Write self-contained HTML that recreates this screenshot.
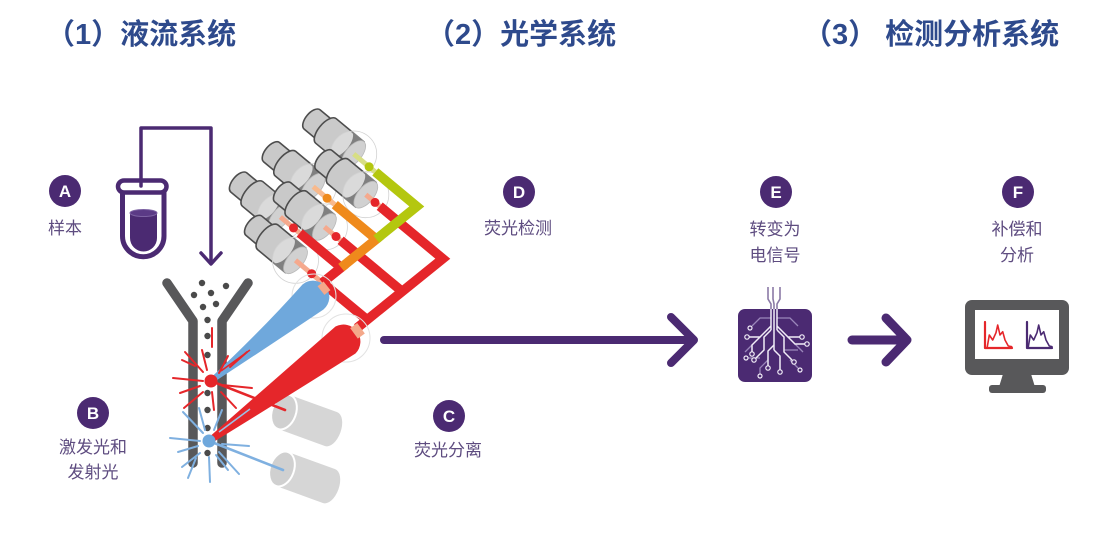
<!DOCTYPE html>
<html>
<head>
<meta charset="utf-8">
<style>
html,body{margin:0;padding:0;background:#fff;}
svg{display:block;}
</style>
</head>
<body>
<svg width="1117" height="544" viewBox="0 0 1117 544" xmlns="http://www.w3.org/2000/svg" xmlns:xlink="http://www.w3.org/1999/xlink">
<defs>
  <g id="cyl">
    <path d="M34,-12.5 L54,-12.5 A6.5,12.5 0 0 1 54,12.5 L34,12.5 Z" fill="#c9c9c9" stroke="#4d4d4d" stroke-width="1.6"/>
    <path d="M0,-16 L36,-16 A7.5,16 0 0 1 36,16 L0,16 Z" fill="#cacaca" stroke="#4d4d4d" stroke-width="1.6"/>
    <path d="M1,-16 L16,-16 A7.5,16 0 0 0 16,16 L1,16 Z" fill="#4a4a4a"/>
    <ellipse cx="0" cy="0" rx="8" ry="16" fill="#bdbdbd" stroke="#9a9a9a" stroke-width="0.8"/>
  </g>
  <g id="gcyl">
    <path d="M0,-18 L50,-18 A10,18 0 0 1 50,18 L0,18 Z" fill="#d6d6d6"/>
    <ellipse cx="0" cy="0" rx="12" ry="18" fill="#d0d0d0" stroke="#ffffff" stroke-width="2"/>
  </g>
</defs>

<!-- Titles -->
<g font-family="'Liberation Sans','Noto Sans CJK SC',sans-serif" font-weight="700" font-size="29" fill="#2e4a8c">
  <text x="46" y="44">（1）液流系统</text>
  <text x="426" y="44">（2）光学系统</text>
  <text x="803" y="44">（3） 检测分析系统</text>
</g>

<!-- Letter circles -->
<g fill="#4b2a72">
  <circle cx="65" cy="191" r="16"/>
  <circle cx="93" cy="413" r="16"/>
  <circle cx="449" cy="416" r="16"/>
  <circle cx="519" cy="192" r="16"/>
  <circle cx="776" cy="192" r="16"/>
  <circle cx="1018" cy="192" r="16"/>
</g>
<g font-family="'Liberation Sans',sans-serif" font-weight="700" font-size="17" fill="#ffffff" text-anchor="middle">
  <text x="65" y="197">A</text>
  <text x="93" y="419">B</text>
  <text x="449" y="422">C</text>
  <text x="519" y="198">D</text>
  <text x="776" y="198">E</text>
  <text x="1018" y="198">F</text>
</g>

<!-- Labels -->
<g font-family="'Liberation Sans','Noto Sans CJK SC',sans-serif" font-size="17" fill="#5e4c80" text-anchor="middle">
  <text x="65" y="234">样本</text>
  <text x="93" y="453">激发光和</text>
  <text x="93" y="478">发射光</text>
  <text x="448" y="456">荧光分离</text>
  <text x="518" y="234">荧光检测</text>
  <text x="775" y="235">转变为</text>
  <text x="775" y="261">电信号</text>
  <text x="1017" y="235">补偿和</text>
  <text x="1017" y="261">分析</text>
</g>

<!-- Sample tube -->
<path d="M122.5,192 V236 A20.75,20.75 0 0 0 164,236 V192" fill="#fff" stroke="#4b2a72" stroke-width="5"/>
<path d="M130,213 V238 A13.5,13.5 0 0 0 157,238 V213 Z" fill="#4b2a72"/>
<ellipse cx="143.5" cy="213" rx="13.5" ry="3.5" fill="#5b3a86" stroke="#7d62a3" stroke-width="1"/>
<rect x="118" y="180.5" width="48.5" height="12" rx="6" fill="#fff" stroke="#4b2a72" stroke-width="4.5"/>
<g stroke="#4b2a72" fill="none" stroke-linecap="round" stroke-linejoin="round" stroke-width="3.5">
  <path d="M141,186 V128 H211 V263"/>
  <path d="M201,253 L211,264 L221,253"/>
</g>

<!-- Y flow cell -->
<g stroke="#58585a" stroke-width="9.5" fill="none" stroke-linecap="round" stroke-linejoin="round">
  <path d="M167,283 L193,321 V463"/>
  <path d="M248,283 L222,321 V463"/>
</g>
<g fill="#4a4a4a">
  <circle cx="202" cy="283" r="3.2"/>
  <circle cx="226" cy="286" r="3.2"/>
  <circle cx="194" cy="295" r="3.2"/>
  <circle cx="211" cy="293" r="3.2"/>
  <circle cx="203" cy="307" r="3.2"/>
  <circle cx="216" cy="304" r="3.2"/>
  <circle cx="207.5" cy="320" r="3.2"/>
  <circle cx="207.5" cy="336" r="3.2"/>
  <circle cx="207.5" cy="355" r="3.2"/>
  <circle cx="207.5" cy="393" r="3.2"/>
  <circle cx="207.5" cy="410" r="3.2"/>
  <circle cx="207.5" cy="428" r="3.2"/>
  <circle cx="207.5" cy="453" r="3.2"/>
</g>

<!-- light gray cylinders -->
<use xlink:href="#gcyl" href="#gcyl" transform="translate(284,412) rotate(20)"/>
<use xlink:href="#gcyl" href="#gcyl" transform="translate(282,469) rotate(20)"/>

<!-- detector cylinders -->
<use xlink:href="#cyl" href="#cyl" transform="translate(353.7,154) rotate(-140.3)"/>
<circle cx="353.7" cy="154" r="23" fill="#fff" fill-opacity="0.3" stroke="#d2d2d2" stroke-width="0.8"/>
<use xlink:href="#cyl" href="#cyl" transform="translate(313.2,186.7) rotate(-140.3)"/>
<circle cx="313.2" cy="186.7" r="23" fill="#fff" fill-opacity="0.3" stroke="#d2d2d2" stroke-width="0.8"/>
<use xlink:href="#cyl" href="#cyl" transform="translate(365.8,194.7) rotate(-140.3)"/>
<circle cx="365.8" cy="194.7" r="23" fill="#fff" fill-opacity="0.3" stroke="#d2d2d2" stroke-width="0.8"/>
<use xlink:href="#cyl" href="#cyl" transform="translate(280.4,217) rotate(-140.3)"/>
<circle cx="280.4" cy="217" r="23" fill="#fff" fill-opacity="0.3" stroke="#d2d2d2" stroke-width="0.8"/>
<use xlink:href="#cyl" href="#cyl" transform="translate(324.4,226.9) rotate(-140.3)"/>
<circle cx="324.4" cy="226.9" r="23" fill="#fff" fill-opacity="0.3" stroke="#d2d2d2" stroke-width="0.8"/>
<use xlink:href="#cyl" href="#cyl" transform="translate(295.5,260.3) rotate(-140.3)"/>
<circle cx="295.5" cy="260.3" r="23" fill="#fff" fill-opacity="0.3" stroke="#d2d2d2" stroke-width="0.8"/>

<!-- thin link lines from detectors -->
<g stroke-width="5" fill="none">
  <line x1="353.7" y1="154" x2="375.3" y2="171.9" stroke="#d7de84"/>
  <line x1="313.2" y1="186.7" x2="334.8" y2="204.6" stroke="#f8b98c"/>
  <line x1="365.8" y1="194.7" x2="379.7" y2="206.2" stroke="#f5a98d"/>
  <line x1="280.4" y1="217" x2="299.7" y2="233" stroke="#f5a98d"/>
  <line x1="324.4" y1="226.9" x2="340.6" y2="240.3" stroke="#f5a98d"/>
  <line x1="295.5" y1="260.3" x2="322.4" y2="282.7" stroke="#f5a98d"/>
</g>

<!-- lattice -->
<g fill="none" stroke-width="9.5" stroke-linejoin="miter" stroke-linecap="butt">
  <polyline points="357,328 442.8,258.7 379.7,206.2" stroke="#e5262a"/>
  <line x1="402.2" y1="291.5" x2="340.6" y2="240.3" stroke="#e5262a"/>
  <line x1="367.1" y1="319.8" x2="322.4" y2="282.7" stroke="#e5262a"/>
  <polyline points="299.7,233 341.2,267.6 322.4,282.7" stroke="#e5262a"/>
  <polyline points="334.8,204.6 376.3,239.2 341.2,267.6" stroke="#ef8a1c"/>
  <polyline points="375.3,171.9 416.8,206.5 376.3,239.2" stroke="#b4c70f"/>
</g>
<g>
  <circle cx="369.1" cy="166.8" r="4.5" fill="#b4c70f"/>
  <circle cx="327.1" cy="198.2" r="4.5" fill="#ef8a1c"/>
  <circle cx="375" cy="202.4" r="4.5" fill="#e5262a"/>
  <circle cx="293.5" cy="227.9" r="4.5" fill="#e5262a"/>
  <circle cx="336" cy="236.5" r="4.5" fill="#e5262a"/>
  <circle cx="311.7" cy="273.7" r="4.5" fill="#e5262a"/>
</g>

<!-- faint rings at beam ends -->
<circle cx="314" cy="296" r="22" fill="none" stroke="#e2e2e2" stroke-width="1"/>
<circle cx="346" cy="338" r="24" fill="none" stroke="#e2e2e2" stroke-width="1"/>

<!-- beams -->
<path d="M209.5,379 Q262,330 302.5,284.5 A16,16 0 0 1 323.5,309.5 Q266,348 212.5,383 Z" fill="#6fa8dc"/>
<path d="M207,439 Q280,375 335.5,326.5 A17,17 0 0 1 355.5,353.5 Q285,398 211,443.5 Z" fill="#e5262a"/>
<line x1="321" y1="290.6" x2="327" y2="285.8" stroke="#f4a88a" stroke-width="11"/>
<line x1="354" y1="333.4" x2="361" y2="328.3" stroke="#f4a88a" stroke-width="13"/>
<line x1="221" y1="371" x2="250" y2="350" stroke="#e5262a" stroke-width="1.6"/>
<line x1="219" y1="432" x2="250" y2="409" stroke="#9cc0e6" stroke-width="1.6"/>

<!-- red rays -->
<g stroke="#e5262a" stroke-width="2" stroke-linecap="round">
  <line x1="173" y1="378" x2="203" y2="381"/>
  <line x1="185" y1="352" x2="203" y2="372"/>
  <line x1="202" y1="350" x2="207" y2="370"/>
  <line x1="212" y1="328" x2="212" y2="347"/>
  <line x1="230" y1="367" x2="247" y2="352"/>
  <line x1="222" y1="385" x2="252" y2="388"/>
  <line x1="221" y1="392" x2="236" y2="408"/>
  <line x1="212" y1="392" x2="214" y2="410"/>
  <line x1="203" y1="392" x2="184" y2="408"/>
  <line x1="200" y1="386" x2="180" y2="393"/>
  <line x1="219" y1="373" x2="228" y2="356"/>
  <line x1="195" y1="366" x2="182" y2="360"/>
  <line x1="211" y1="381" x2="285" y2="410" stroke-width="2.6"/>
</g>
<!-- blue rays -->
<g stroke="#7fb0e0" stroke-width="2" stroke-linecap="round">
  <line x1="170" y1="438" x2="200" y2="441"/>
  <line x1="183" y1="412" x2="203" y2="433"/>
  <line x1="199" y1="408" x2="205" y2="430"/>
  <line x1="222" y1="410" x2="214" y2="430"/>
  <line x1="222" y1="444" x2="249" y2="446"/>
  <line x1="219" y1="452" x2="239" y2="474"/>
  <line x1="209" y1="457" x2="210" y2="482"/>
  <line x1="200" y1="453" x2="182" y2="467"/>
  <line x1="198" y1="446" x2="178" y2="452"/>
  <line x1="196" y1="458" x2="188" y2="478"/>
  <line x1="216" y1="455" x2="228" y2="470"/>
  <line x1="209" y1="441" x2="283" y2="470" stroke-width="2.6"/>
</g>
<circle cx="211" cy="381" r="6.5" fill="#e5262a"/>
<circle cx="209" cy="441" r="6.5" fill="#6fa8dc"/>

<!-- arrows -->
<g stroke="#4b2a72" fill="none" stroke-linecap="round" stroke-linejoin="round">
  <path d="M384,340 H692" stroke-width="8"/>
  <path d="M671,317 L694,340 L671,363" stroke-width="8"/>
  <path d="M852,340 H906" stroke-width="9"/>
  <path d="M886,318 L907,340 L886,362" stroke-width="9"/>
</g>

<!-- chip -->
<g fill="none" stroke="#8b7aa6" stroke-width="1.6">
  <path d="M768,287 V299 L771,304 V312"/>
  <path d="M773,287 V299 L774,304 V312"/>
  <path d="M780,287 V299 L777,304 V312"/>
</g>
<rect x="738" y="309" width="74" height="73" rx="7" fill="#4b2a72"/>
<g fill="none" stroke="#9a86ba" stroke-width="1.3">
  <path d="M771,318 H760 L752,326"/>
  <path d="M777,318 H790 L798,326"/>
  <path d="M760,358 H748"/>
  <path d="M784,350 H798"/>
  <path d="M790,360 L798,368"/>
  <path d="M768,360 L760,368 V374"/>
  <path d="M752,345 L745,352"/>
  <path d="M795,344 L803,352"/>
</g>
<g fill="none" stroke="#f1ecf7" stroke-width="1.5">
  <path d="M771,309 V330"/>
  <path d="M774,309 V350"/>
  <path d="M777,309 V330"/>
  <path d="M771,326 L760,337 H749"/>
  <path d="M771,330 L764,337 V350 L756,358"/>
  <path d="M760,337 L752,345 V352"/>
  <path d="M774,345 L768,351 V366"/>
  <path d="M774,350 L780,356 V370"/>
  <path d="M777,326 L788,337 H800"/>
  <path d="M777,330 L784,337 V352 L792,360"/>
  <path d="M788,337 L795,344 H805"/>
</g>
<g fill="#4b2a72" stroke="#f1ecf7" stroke-width="1.2">
  <circle cx="747" cy="337" r="2.2"/>
  <circle cx="754" cy="360" r="2.2"/>
  <circle cx="752" cy="354" r="2.2"/>
  <circle cx="768" cy="368" r="2.2"/>
  <circle cx="780" cy="372" r="2.2"/>
  <circle cx="802" cy="337" r="2.2"/>
  <circle cx="794" cy="362" r="2.2"/>
  <circle cx="807" cy="344" r="2.2"/>
  <circle cx="750" cy="328" r="2"/>
  <circle cx="746" cy="358" r="2"/>
  <circle cx="760" cy="376" r="2"/>
  <circle cx="800" cy="370" r="2"/>
</g>

<!-- monitor -->
<rect x="965" y="300" width="104" height="75" rx="7" fill="#58585a"/>
<rect x="975" y="310" width="84" height="49" fill="#ffffff"/>
<path d="M1003,374 H1031 L1035,387 H999 Z" fill="#58585a"/>
<rect x="989" y="385" width="57" height="8" rx="3" fill="#58585a"/>
<g fill="none" stroke-width="2.2" stroke-linejoin="round" stroke-linecap="round">
  <polyline points="985,322 985,348 1012,348" stroke="#e5262a"/>
  <polyline points="987.3,346.7 989.3,335 992.7,340 996,332.7 997.7,325 1000,335 1002.7,331.7 1005,340 1008.3,346 1011.7,346.7" stroke="#e5262a" stroke-width="1.6"/>
  <polyline points="1027,322 1027,348 1052,348" stroke="#4b2a72"/>
  <polyline points="1028.3,346.7 1030.3,335 1033.7,340 1037,332.7 1038.7,325 1041,335 1043.7,331.7 1046,340 1049.3,346 1052,346.7" stroke="#4b2a72" stroke-width="1.6"/>
</g>
</svg>
</body>
</html>
